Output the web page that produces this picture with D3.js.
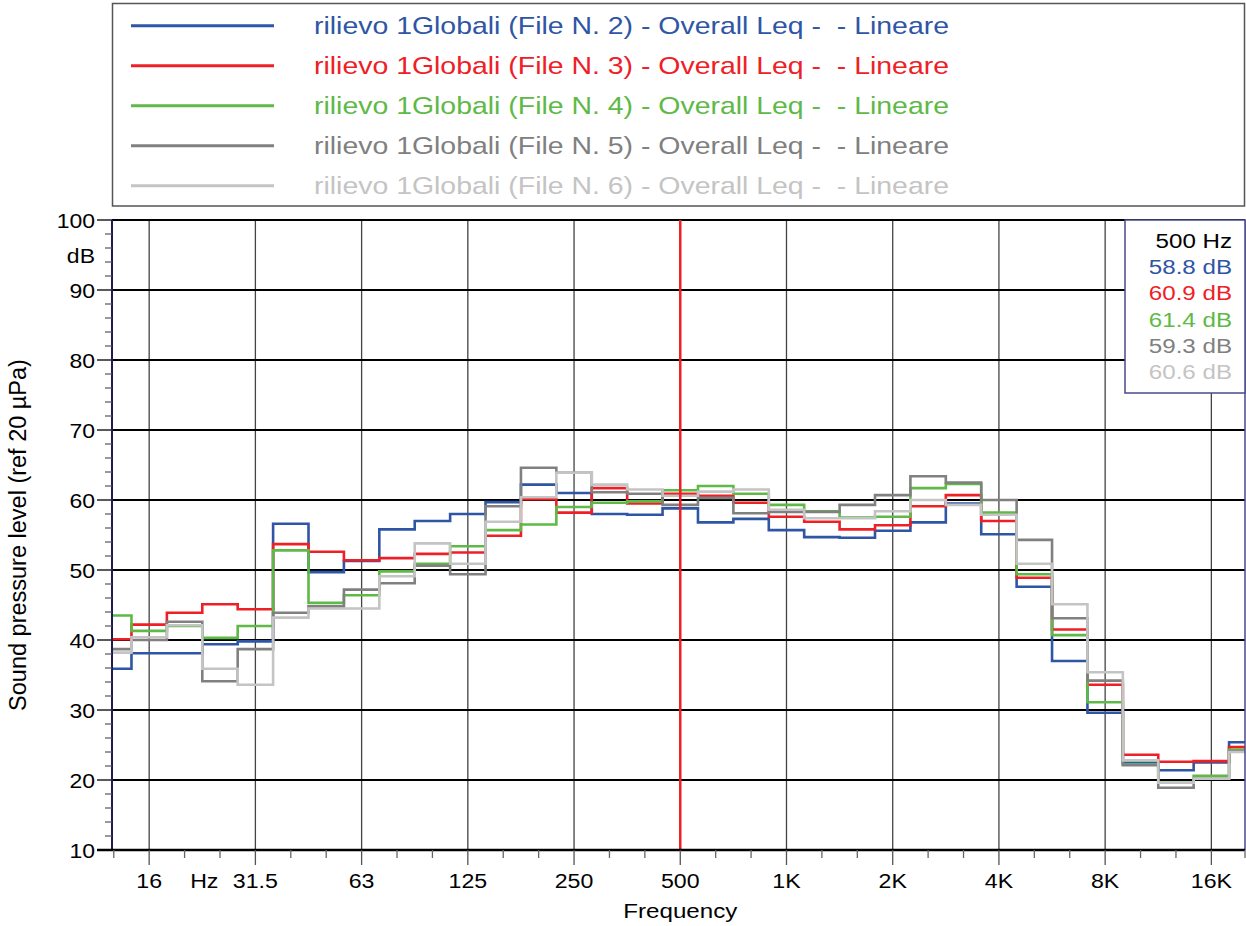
<!DOCTYPE html>
<html><head><meta charset="utf-8">
<script src="https://cdn.jsdelivr.net/npm/d3@7"></script>
<style>
body{margin:0;background:#fff;}
svg{display:block;}
text{font-family:"Liberation Sans",Arial,Helvetica,sans-serif;white-space:pre;}
</style>
</head><body>
<svg id="chart" width="1246" height="926"></svg>
<script>
// ---------- DATA ----------
// third-octave band index n (centre frequency = 10^(n/10) Hz)
const bandN = [11,12,13,14,15,16,17,18,19,20,21,22,23,24,25,26,27,28,29,30,31,32,33,34,35,36,37,38,39,40,41,42,43];
const bandLabels = ["12.5","16","20","25","31.5","40","50","63","80","100","125","160","200","250","315","400","500","630","800","1K","1.25K","1.6K","2K","2.5K","3.15K","4K","5K","6.3K","8K","10K","12.5K","16K","20K"];

const seriesNames = [
  "rilievo 1Globali (File N. 2) - Overall Leq -  - Lineare",
  "rilievo 1Globali (File N. 3) - Overall Leq -  - Lineare",
  "rilievo 1Globali (File N. 4) - Overall Leq -  - Lineare",
  "rilievo 1Globali (File N. 5) - Overall Leq -  - Lineare",
  "rilievo 1Globali (File N. 6) - Overall Leq -  - Lineare"
];
const seriesColors = ["#2f55a5","#ee2026","#5eb947","#808080","#c4c4c4"];

const file2 = [35.9,38.1,38.1,39.4,39.8,56.6,49.7,51.3,55.8,57.0,58.0,59.7,62.2,61.0,58.0,57.9,58.8,56.8,57.3,55.7,54.7,54.6,55.6,56.8,59.5,55.1,47.6,37.0,29.6,22.5,21.4,22.5,25.4];
const file3 = [40.1,42.2,43.9,45.1,44.4,53.7,52.6,51.4,51.7,52.3,52.5,54.9,60.1,58.2,61.7,59.5,60.9,60.6,59.6,57.6,56.9,55.8,56.4,59.1,60.7,57.0,48.9,41.5,33.6,23.6,22.6,22.7,24.7];
const file4 = [43.5,41.3,42.0,40.3,42.0,52.8,45.3,46.4,49.8,50.9,53.4,55.7,56.5,59.0,59.6,59.8,61.4,62.0,60.9,59.3,58.4,57.5,57.6,61.7,62.3,58.2,49.4,40.7,31.1,22.2,19.6,20.6,24.3];
const file5 = [38.7,40.0,42.6,34.1,38.7,43.9,44.8,47.2,48.1,50.6,49.4,59.1,64.6,63.9,61.1,60.9,59.3,60.3,58.1,58.3,58.3,59.3,60.7,63.4,62.5,60.0,54.3,43.1,34.2,22.1,18.9,20.2,24.1];
const file6 = [38.2,40.4,42.1,35.9,33.6,43.2,44.5,44.5,49.1,53.8,50.9,56.9,60.4,63.9,62.2,61.5,60.6,61.2,61.5,58.6,57.4,57.4,58.4,60.0,59.3,57.9,50.9,45.1,35.4,22.8,19.6,20.2,24.0];
const allSeries = [file2,file3,file4,file5,file6];

const majorTickN = [12,15,18,21,24,27,30,33,36,39,42];
const majorTickLabels = ["16","31.5","63","125","250","500","1K","2K","4K","8K","16K"];
const yMajorTicks = [10,20,30,40,50,60,70,80,90,100];
const cursorBandLabel = "500";
const cursorText = "500 Hz";

// ---------- LAYOUT ----------
const P = {left:112, right:1245, top:220, bottom:850};
const svg = d3.select("#chart");
const freq = n => Math.pow(10, n/10);

const x = d3.scaleLog().domain([Math.pow(10,1.095), Math.pow(10,4.295)]).range([P.left, P.right]);
const y = d3.scaleLinear().domain([10,100]).range([P.bottom, P.top]);

function txt(g, px, py, s, size, sx, anchor, fill){
  return g.append("text")
    .attr("transform", `translate(${px},${py}) scale(${sx},1)`)
    .attr("text-anchor", anchor)
    .attr("font-size", size)
    .attr("fill", fill)
    .attr("xml:space","preserve")
    .text(s);
}

// ---------- LEGEND ----------
const leg = svg.append("g");
leg.append("rect").attr("x",112.5).attr("y",3.5).attr("width",1132).attr("height",202.5)
  .attr("fill","#fff").attr("stroke","#555").attr("stroke-width",1.5);
seriesNames.forEach((name,i)=>{
  const ry = 25.7 + 40*i;
  leg.append("line").attr("x1",131).attr("x2",274).attr("y1",ry).attr("y2",ry)
    .attr("stroke",seriesColors[i]).attr("stroke-width",3);
  txt(leg, 314, ry+8, name, 24, 1.185, "start", seriesColors[i]);
});

// ---------- GRID ----------
const grid = svg.append("g");
majorTickN.forEach(n=>{
  grid.append("line").attr("x1",x(freq(n))).attr("x2",x(freq(n)))
    .attr("y1",P.top).attr("y2",P.bottom).attr("stroke","#444").attr("stroke-width",1.3);
});
yMajorTicks.forEach(v=>{
  grid.append("line").attr("x1",P.left).attr("x2",P.right).attr("y1",y(v)).attr("y2",y(v))
    .attr("stroke","#000").attr("stroke-width",2.2);
});

// ---------- SERIES (steps over band edges) ----------
svg.append("clipPath").attr("id","plotclip").append("rect")
  .attr("x",P.left).attr("y",P.top).attr("width",P.right-P.left).attr("height",P.bottom-P.top);
const line = d3.line().x(d=>x(d[0])).y(d=>y(d[1]));
const lines = svg.append("g").attr("clip-path","url(#plotclip)");
allSeries.forEach((vals,si)=>{
  const pts = [];
  bandN.forEach((n,i)=>{
    pts.push([freq(n-0.5), vals[i]]);
    pts.push([freq(n+0.5), vals[i]]);
  });
  lines.append("path").attr("d",line(pts)).attr("fill","none")
    .attr("stroke",seriesColors[si]).attr("stroke-width",2.6).attr("stroke-linejoin","miter");
});

// ---------- CURSOR ----------
const ci = bandLabels.indexOf(cursorBandLabel);
const cx = x(freq(bandN[ci]));
svg.append("line").attr("x1",cx).attr("x2",cx).attr("y1",P.top).attr("y2",P.bottom)
  .attr("stroke","#ee2026").attr("stroke-width",2.5);

// ---------- AXES ----------
const ax = svg.append("g");
ax.append("line").attr("x1",P.left).attr("x2",P.left).attr("y1",P.top).attr("y2",P.bottom+1)
  .attr("stroke","#1c1c4e").attr("stroke-width",2);
ax.append("line").attr("x1",P.right).attr("x2",P.right).attr("y1",P.top).attr("y2",P.bottom)
  .attr("stroke","#4a4a8a").attr("stroke-width",1.5);
d3.range(10,101,2).forEach(v=>{
  const major = v%10===0;
  ax.append("line").attr("x1",P.left-(major?15:7)).attr("x2",P.left).attr("y1",y(v)).attr("y2",y(v))
    .attr("stroke",major?"#222":"#555").attr("stroke-width",major?1.5:1.2);
});
yMajorTicks.forEach(v=>{
  txt(ax, 95, y(v)+7.5, String(v), 20, 1.15, "end", "#000");
});
txt(ax, 95, y(95)+7.5, "dB", 20, 1.15, "end", "#000");

ax.append("line").attr("x1",P.left-15).attr("x2",P.right).attr("y1",P.bottom).attr("y2",P.bottom)
  .attr("stroke","#000").attr("stroke-width",2.5);
bandN.forEach(n=>{
  const major = majorTickN.includes(n);
  const xx = Math.min(Math.max(x(freq(n)),P.left),P.right);
  ax.append("line").attr("x1",xx).attr("x2",xx).attr("y1",P.bottom).attr("y2",P.bottom+(major?15:8))
    .attr("stroke",major?"#555":"#666").attr("stroke-width",1.3);
});
majorTickN.forEach((n,i)=>{
  txt(ax, x(freq(n)), 888, majorTickLabels[i], 20.5, 1.13, "middle", "#000");
});
txt(ax, (x(freq(majorTickN[0]))+x(freq(majorTickN[1])))/2 + 2, 888, "Hz", 20.5, 1.13, "middle", "#000");
txt(ax, cx, 918, "Frequency", 21, 1.15, "middle", "#000");

svg.append("text").attr("transform",`translate(26,${(P.top+P.bottom)/2}) rotate(-90)`)
  .attr("text-anchor","middle").attr("font-size",23.5).attr("fill","#000")
  .text("Sound pressure level (ref 20 \u00b5Pa)");

// ---------- READOUT BOX ----------
const rb = svg.append("g");
rb.append("rect").attr("x",1125).attr("y",P.top).attr("width",P.right-1125).attr("height",173)
  .attr("fill","#fff").attr("stroke","#4a4a8a").attr("stroke-width",1.5);
txt(rb, 1232, 248, cursorText, 21, 1.15, "end", "#000");
allSeries.forEach((vals,i)=>{
  txt(rb, 1232, 248+26.2*(i+1), vals[ci].toFixed(1)+" dB", 21, 1.15, "end", seriesColors[i]);
});
</script>
</body></html>
